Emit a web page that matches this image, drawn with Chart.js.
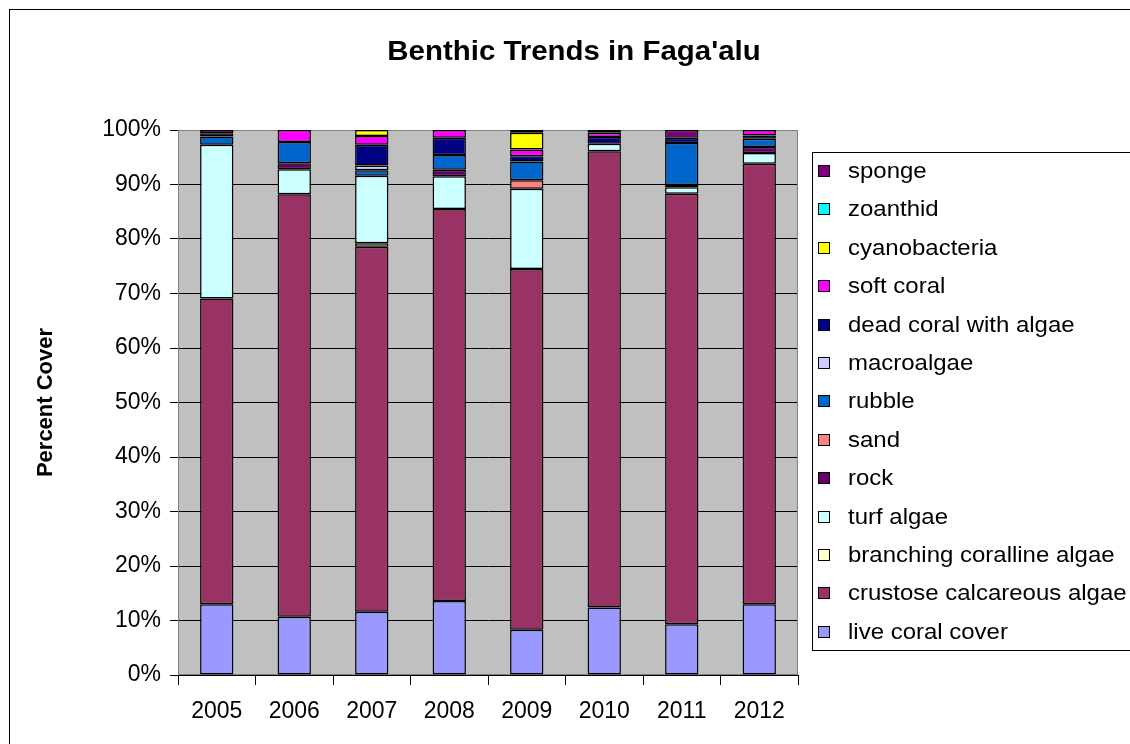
<!DOCTYPE html>
<html>
<head>
<meta charset="utf-8">
<script src="https://cdn.jsdelivr.net/npm/chart.js@4/dist/chart.umd.min.js"></script>
<style>
  html, body { margin: 0; padding: 0; background: #ffffff; }
  #wrap { width: 1130px; height: 744px; position: relative; }
</style>
</head>
<body>
<div id="wrap"><canvas id="c" width="1130" height="744"></canvas></div>
<script>
// ---- Data (percent cover) ----
const years = ['2005', '2006', '2007', '2008', '2009', '2010', '2011', '2012'];

const liveCoral      = [13.0, 10.7, 11.6, 13.6,  8.3, 12.4,  9.3, 13.0];
const crustoseAlgae  = [56.1, 77.5, 67.0, 71.9, 66.2, 83.7, 79.0, 80.8];
const branchingAlgae = [ 0,    0,    0.6,  0,    0,    0,    0,    0  ];
const turfAlgae      = [28.2,  4.6, 12.4,  6.0, 14.7,  1.4,  1.2,  2.0];
const rock           = [ 0,    1.1,  0,    1.2,  0,    0,    0.4,  1.1];
const sand           = [ 0,    0,    0,    0,    1.6,  0,    0,    0  ];
const rubble         = [ 1.5,  3.9,  1.0,  2.7,  3.4,  0,    7.7,  1.5];
const macroalgae     = [ 0,    0,    0.9,  0,    0,    0,    0,    0  ];
const deadCoral      = [ 0.6,  0,    3.8,  3.2,  1.0,  1.2,  1.0,  0.6];
const softCoral      = [ 0.6,  2.2,  1.6,  1.4,  1.2,  0.8,  0,    1.0];
const cyanobacteria  = [ 0,    0,    1.1,  0,    3.1,  0,    0,    0  ];
const zoanthid       = [ 0,    0,    0,    0,    0,    0,    0,    0  ];
const sponge         = [ 0,    0,    0,    0,    0.5,  0.5,  1.4,  0  ];

const seriesNames = ['live coral cover', 'crustose calcareous algae', 'branching coralline algae',
  'turf algae', 'rock', 'sand', 'rubble', 'macroalgae', 'dead coral with algae',
  'soft coral', 'cyanobacteria', 'zoanthid', 'sponge'];
const seriesValues = [liveCoral, crustoseAlgae, branchingAlgae, turfAlgae, rock, sand,
  rubble, macroalgae, deadCoral, softCoral, cyanobacteria, zoanthid, sponge];
const seriesColors = ['#9999FF', '#993366', '#FFFFCC', '#CCFFFF', '#660066', '#FF8080',
  '#0066CC', '#CCCCFF', '#000080', '#FF00FF', '#FFFF00', '#00FFFF', '#800080'];

const yTicks = [0, 10, 20, 30, 40, 50, 60, 70, 80, 90, 100];

const FONT = '"Liberation Sans", Arial, Helvetica, sans-serif';

const datasets = seriesNames.map((name, i) => ({
  label: name,
  data: seriesValues[i].map(v => (v > 0 ? v : null)),
  backgroundColor: seriesColors[i],
  borderColor: '#000000',
  borderWidth: 1.5,
  borderSkipped: false,
  categoryPercentage: 1.0,
  barPercentage: 0.43
}));

const framePlugin = {
  id: 'frame',
  beforeDraw(chart) {
    const ctx = chart.ctx;
    const a = chart.chartArea;
    ctx.save();
    ctx.fillStyle = '#ffffff';
    ctx.fillRect(0, 0, chart.width, chart.height);
    // outer chart border
    ctx.strokeStyle = '#000000';
    ctx.lineWidth = 1;
    ctx.strokeRect(9.5, 9.5, 1200, 800);
    // plot area background
    ctx.fillStyle = '#C0C0C0';
    ctx.fillRect(a.left, a.top, a.right - a.left, a.bottom - a.top);
    // title
    ctx.fillStyle = '#000000';
    ctx.font = 'bold 27px ' + FONT;
    ctx.textAlign = 'center';
    ctx.textBaseline = 'middle';
    ctx.translate(574, 53);
    ctx.scale(1.09, 1);
    ctx.fillText("Benthic Trends in Faga'alu", 0, 0);
    ctx.restore();
  },
  beforeDatasetsDraw(chart) {
    const ctx = chart.ctx;
    const a = chart.chartArea;
    ctx.save();
    ctx.strokeStyle = '#808080';
    ctx.lineWidth = 1;
    ctx.strokeRect(a.left + 0.5, a.top + 0.5, a.right - a.left - 1, a.bottom - a.top - 1);
    ctx.restore();
  },
  afterDraw(chart) {
    const ctx = chart.ctx;
    ctx.save();
    // legend box
    ctx.strokeStyle = '#000000';
    ctx.lineWidth = 1;
    ctx.fillStyle = '#ffffff';
    ctx.fillRect(812, 152, 400, 498);
    ctx.strokeRect(812.5, 152.5, 400, 498);
    ctx.font = '22px ' + FONT;
    ctx.textAlign = 'left';
    ctx.textBaseline = 'middle';
    const ds = chart.data.datasets;
    const n = ds.length;
    for (let k = 0; k < n; k++) {
      const d = ds[n - 1 - k];
      const y = 171 + k * 38.4;
      ctx.fillStyle = d.backgroundColor;
      ctx.fillRect(818, Math.round(y - 6), 12, 12);
      ctx.strokeStyle = '#000000';
      ctx.strokeRect(818.5, Math.round(y - 6) + 0.5, 11, 11);
      ctx.fillStyle = '#000000';
      ctx.save();
      ctx.translate(848, y + 1);
      ctx.scale(1.09, 1);
      ctx.fillText(d.label, 0, 0);
      ctx.restore();
    }
    ctx.restore();
  }
};

new Chart(document.getElementById('c'), {
  type: 'bar',
  data: { labels: years, datasets: datasets },
  plugins: [framePlugin],
  options: {
    responsive: false,
    animation: false,
    layout: { padding: { left: 0, top: 130, right: 332, bottom: 0 } },
    plugins: {
      legend: { display: false },
      title: { display: false },
      tooltip: { enabled: false }
    },
    scales: {
      x: {
        stacked: true,
        afterFit(scale) { scale.height = 69; },
        grid: {
          offset: true,
          drawOnChartArea: false,
          drawTicks: true,
          tickLength: 10,
          color: '#000000'
        },
        border: { color: '#000000' },
        ticks: {
          color: '#000000',
          font: { family: FONT, size: 23 },
          padding: 13,
          maxRotation: 0
        }
      },
      y: {
        stacked: true,
        min: 0,
        max: 100,
        afterFit(scale) { scale.width = 178; },
        afterBuildTicks(scale) { scale.ticks = yTicks.map(v => ({ value: v })); },
        grid: {
          color: '#000000',
          lineWidth: 1,
          drawTicks: true,
          tickLength: 8
        },
        border: { color: '#000000' },
        ticks: {
          color: '#000000',
          font: { family: FONT, size: 23 },
          padding: 9,
          callback: v => v + '%'
        },
        title: {
          display: true,
          text: 'Percent Cover',
          color: '#000000',
          font: { family: FONT, size: 22, weight: 'bold' },
          padding: { top: 33, bottom: 0 }
        }
      }
    }
  }
});
</script>
</body>
</html>
